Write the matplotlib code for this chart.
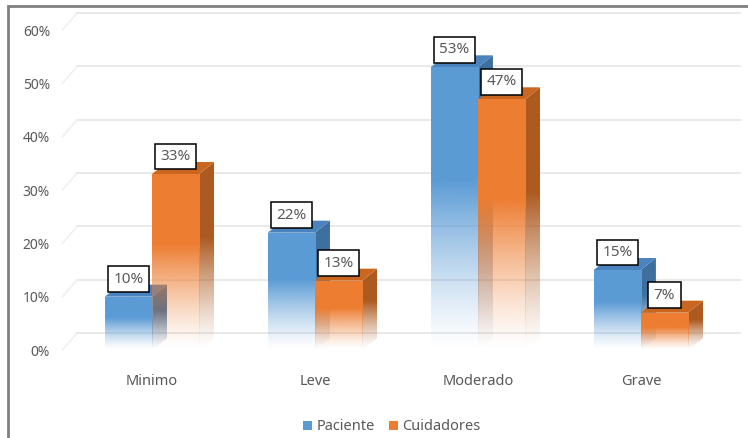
import numpy as np
import matplotlib

matplotlib.use("Agg")
import matplotlib.pyplot as plt
from matplotlib.patches import Polygon, Patch, Rectangle
from matplotlib.colors import to_rgb

categories = ["Minimo", "Leve", "Moderado", "Grave"]
paciente = [0.10, 0.22, 0.53, 0.15]
cuidadores = [0.33, 0.13, 0.47, 0.07]
y_ticks = [0.0, 0.1, 0.2, 0.3, 0.4, 0.5, 0.6]
series_names = ["Paciente", "Cuidadores"]

BLUE = "#5b9bd5"
ORANGE = "#ed7d31"
BLUE_SIDE = "#3e6f9e"
ORANGE_SIDE = "#ad5a20"
BLUE_TOP = "#4a83bd"
ORANGE_TOP = "#c9661f"
TEXT = "#595959"

BAR_W = 0.29
BAR_DX, BAR_DY = 0.092, 0.0225
WALL_DX, WALL_DY = 0.092, 0.032
X_MIN, X_MAX = -0.55, 3.5

plt.rcParams["font.family"] = ["Noto Sans", "DejaVu Sans"]

fig = plt.figure(figsize=(7.48, 4.38), dpi=100)
ax = fig.add_axes([62.4 / 748, 88 / 438, 660 / 748, 320 / 438])
ax.set_xlim(X_MIN, X_MAX)
ax.set_ylim(0, 0.6)
for spine in ax.spines.values():
    spine.set_visible(False)

# back wall grid lines + left wall diagonals
for t in y_ticks:
    ax.plot([X_MIN + WALL_DX, 3.61], [t + WALL_DY, t + WALL_DY], color="#e9e9e9",
            linewidth=1.4, zorder=1, clip_on=False)
    ax.plot([X_MIN, X_MIN + WALL_DX], [t, t + WALL_DY], color="#eeeeee",
            linewidth=1.0, zorder=1, clip_on=False)


def gradient_image(color):
    rgb = np.array(to_rgb(color))
    rows = 200
    frac = np.linspace(0, 1, rows)  # 0 at top, 1 at bottom
    alpha = np.clip(1 - (frac - 0.4) / 0.6, 0, 1) ** 1.3
    img = np.ones((rows, 1, 4))
    img[:, 0, :3] = rgb
    img[:, 0, 3] = alpha
    return img


def draw_bar(x0, h, face, side, top):
    x1 = x0 + BAR_W
    # side face
    side_poly = Polygon([(x1, 0), (x1 + BAR_DX, BAR_DY), (x1 + BAR_DX, h + BAR_DY), (x1, h)],
                        closed=True, facecolor="none", edgecolor="none")
    ax.add_patch(side_poly)
    im = ax.imshow(gradient_image(side), extent=(x1, x1 + BAR_DX, 0, h + BAR_DY),
                   aspect="auto", zorder=3, interpolation="bilinear")
    im.set_clip_path(side_poly)
    # top face
    ax.add_patch(Polygon([(x0, h), (x1, h), (x1 + BAR_DX, h + BAR_DY), (x0 + BAR_DX, h + BAR_DY)],
                         closed=True, facecolor=top, edgecolor="none", zorder=3))
    # front face
    front = Rectangle((x0, 0), BAR_W, h, facecolor="none", edgecolor="none")
    ax.add_patch(front)
    im = ax.imshow(gradient_image(face), extent=(x0, x1, 0, h),
                   aspect="auto", zorder=4, interpolation="bilinear")
    im.set_clip_path(front)
    ax.text(x0 + BAR_W / 2, h + 0.019, f"{round(h * 100)}%", ha="center", va="bottom",
            fontsize=11, color=TEXT, zorder=6,
            bbox=dict(boxstyle="square,pad=0.35", facecolor="white", edgecolor="black", linewidth=1.1))


# draw left to right so the right bar covers the left bar's side
for i in range(len(categories)):
    draw_bar(i - BAR_W, paciente[i], BLUE, BLUE_SIDE, BLUE_TOP)
    draw_bar(i, cuidadores[i], ORANGE, ORANGE_SIDE, ORANGE_TOP)

ax.set_xlim(X_MIN, X_MAX)
ax.set_ylim(0, 0.6)
ax.set_yticks(y_ticks)
ax.set_yticklabels([f"{round(t * 100)}%" for t in y_ticks])
ax.set_xticks(range(len(categories)))
ax.set_xticklabels(categories)
ax.tick_params(axis="y", length=0, pad=9, labelsize=10, labelcolor=TEXT)
ax.tick_params(axis="x", length=0, pad=17, labelsize=10.5, labelcolor=TEXT)

handles = [Patch(facecolor=BLUE, edgecolor="none"), Patch(facecolor=ORANGE, edgecolor="none")]
fig.legend(handles, series_names, loc="center", bbox_to_anchor=(392 / 748, 1 - 427 / 438),
           ncol=2, frameon=False, fontsize=10.5, labelcolor=TEXT, handlelength=0.6,
           handleheight=0.6, handletextpad=0.3, columnspacing=1.0)

# outer frame (only top and left visible in the crop)
fig.add_artist(Rectangle((8 / 748, -0.1), 1.2, 1.1 - 6 / 438, transform=fig.transFigure,
                         fill=False, edgecolor="#808080", linewidth=2.0, clip_on=False))

fig.savefig("out.png", dpi=100)
